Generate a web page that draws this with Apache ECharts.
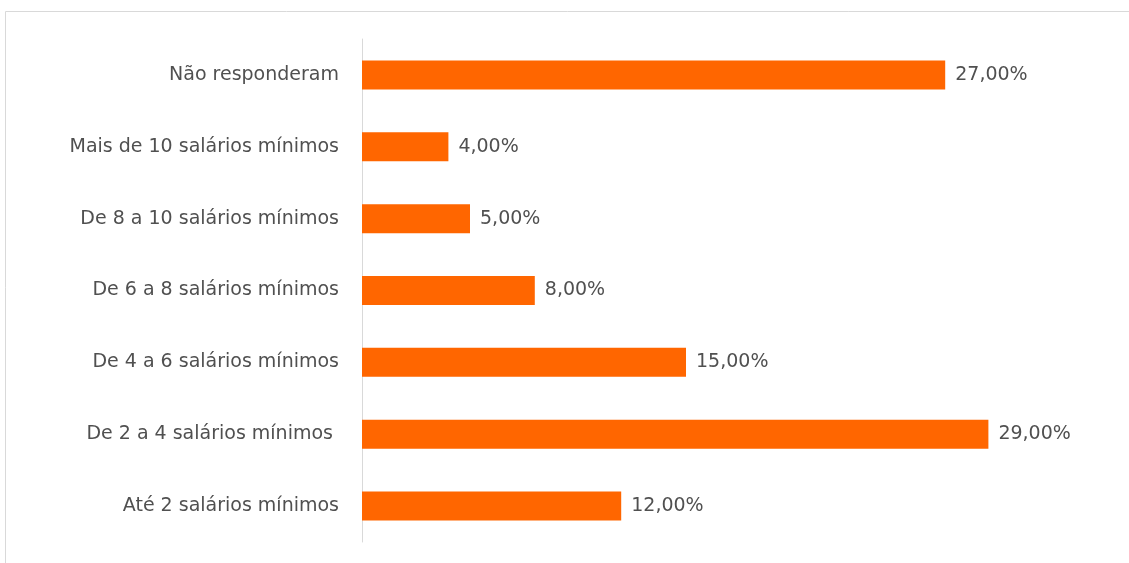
<!DOCTYPE html>
<html>
<head>
<meta charset="utf-8">
<script src="https://cdn.jsdelivr.net/npm/echarts@6/dist/echarts.min.js"></script>
<style>
  html, body { margin: 0; padding: 0; background: #fff; }
  #chart { width: 1129px; height: 563px; }
</style>
</head>
<body>
<div id="chart"></div>
<script>
// faixas de renda, de baixo para cima
const categorias = [
  "Até 2 salários mínimos",
  "De 2 a 4 salários mínimos ",
  "De 4 a 6 salários mínimos",
  "De 6 a 8 salários mínimos",
  "De 8 a 10 salários mínimos",
  "Mais de 10 salários mínimos",
  "Não responderam"
];
const valores = [12, 29, 15, 8, 5, 4, 27];

const fonte = "'DejaVu Sans'";

const mychart = echarts.init(document.getElementById("chart"));
mychart.setOption({
  animation: false,
  graphic: [
    {
      type: "rect",
      shape: { x: 5.5, y: 11.5, width: 1140, height: 560 },
      style: { fill: "none", stroke: "#d9d9d9", lineWidth: 1 }
    }
  ],
  grid: { left: 362, width: 648, top: 39, bottom: 21 },
  xAxis: {
    type: "value",
    min: 0,
    max: 30,
    show: false
  },
  yAxis: {
    type: "category",
    data: categorias,
    axisLine: { lineStyle: { color: "#d9d9d9", width: 1 } },
    axisTick: { show: false },
    axisLabel: {
      color: "#505050",
      fontSize: 19,
      fontFamily: fonte,
      margin: 23
    }
  },
  series: [
    {
      type: "bar",
      data: valores,
      barWidth: 29,
      itemStyle: { color: "#ff6600" },
      label: {
        show: true,
        position: "right",
        distance: 10,
        color: "#505050",
        fontSize: 19,
        fontFamily: fonte,
        formatter: (p) => p.value.toFixed(2).replace(".", ",") + "%"
      }
    }
  ]
});
</script>
</body>
</html>
